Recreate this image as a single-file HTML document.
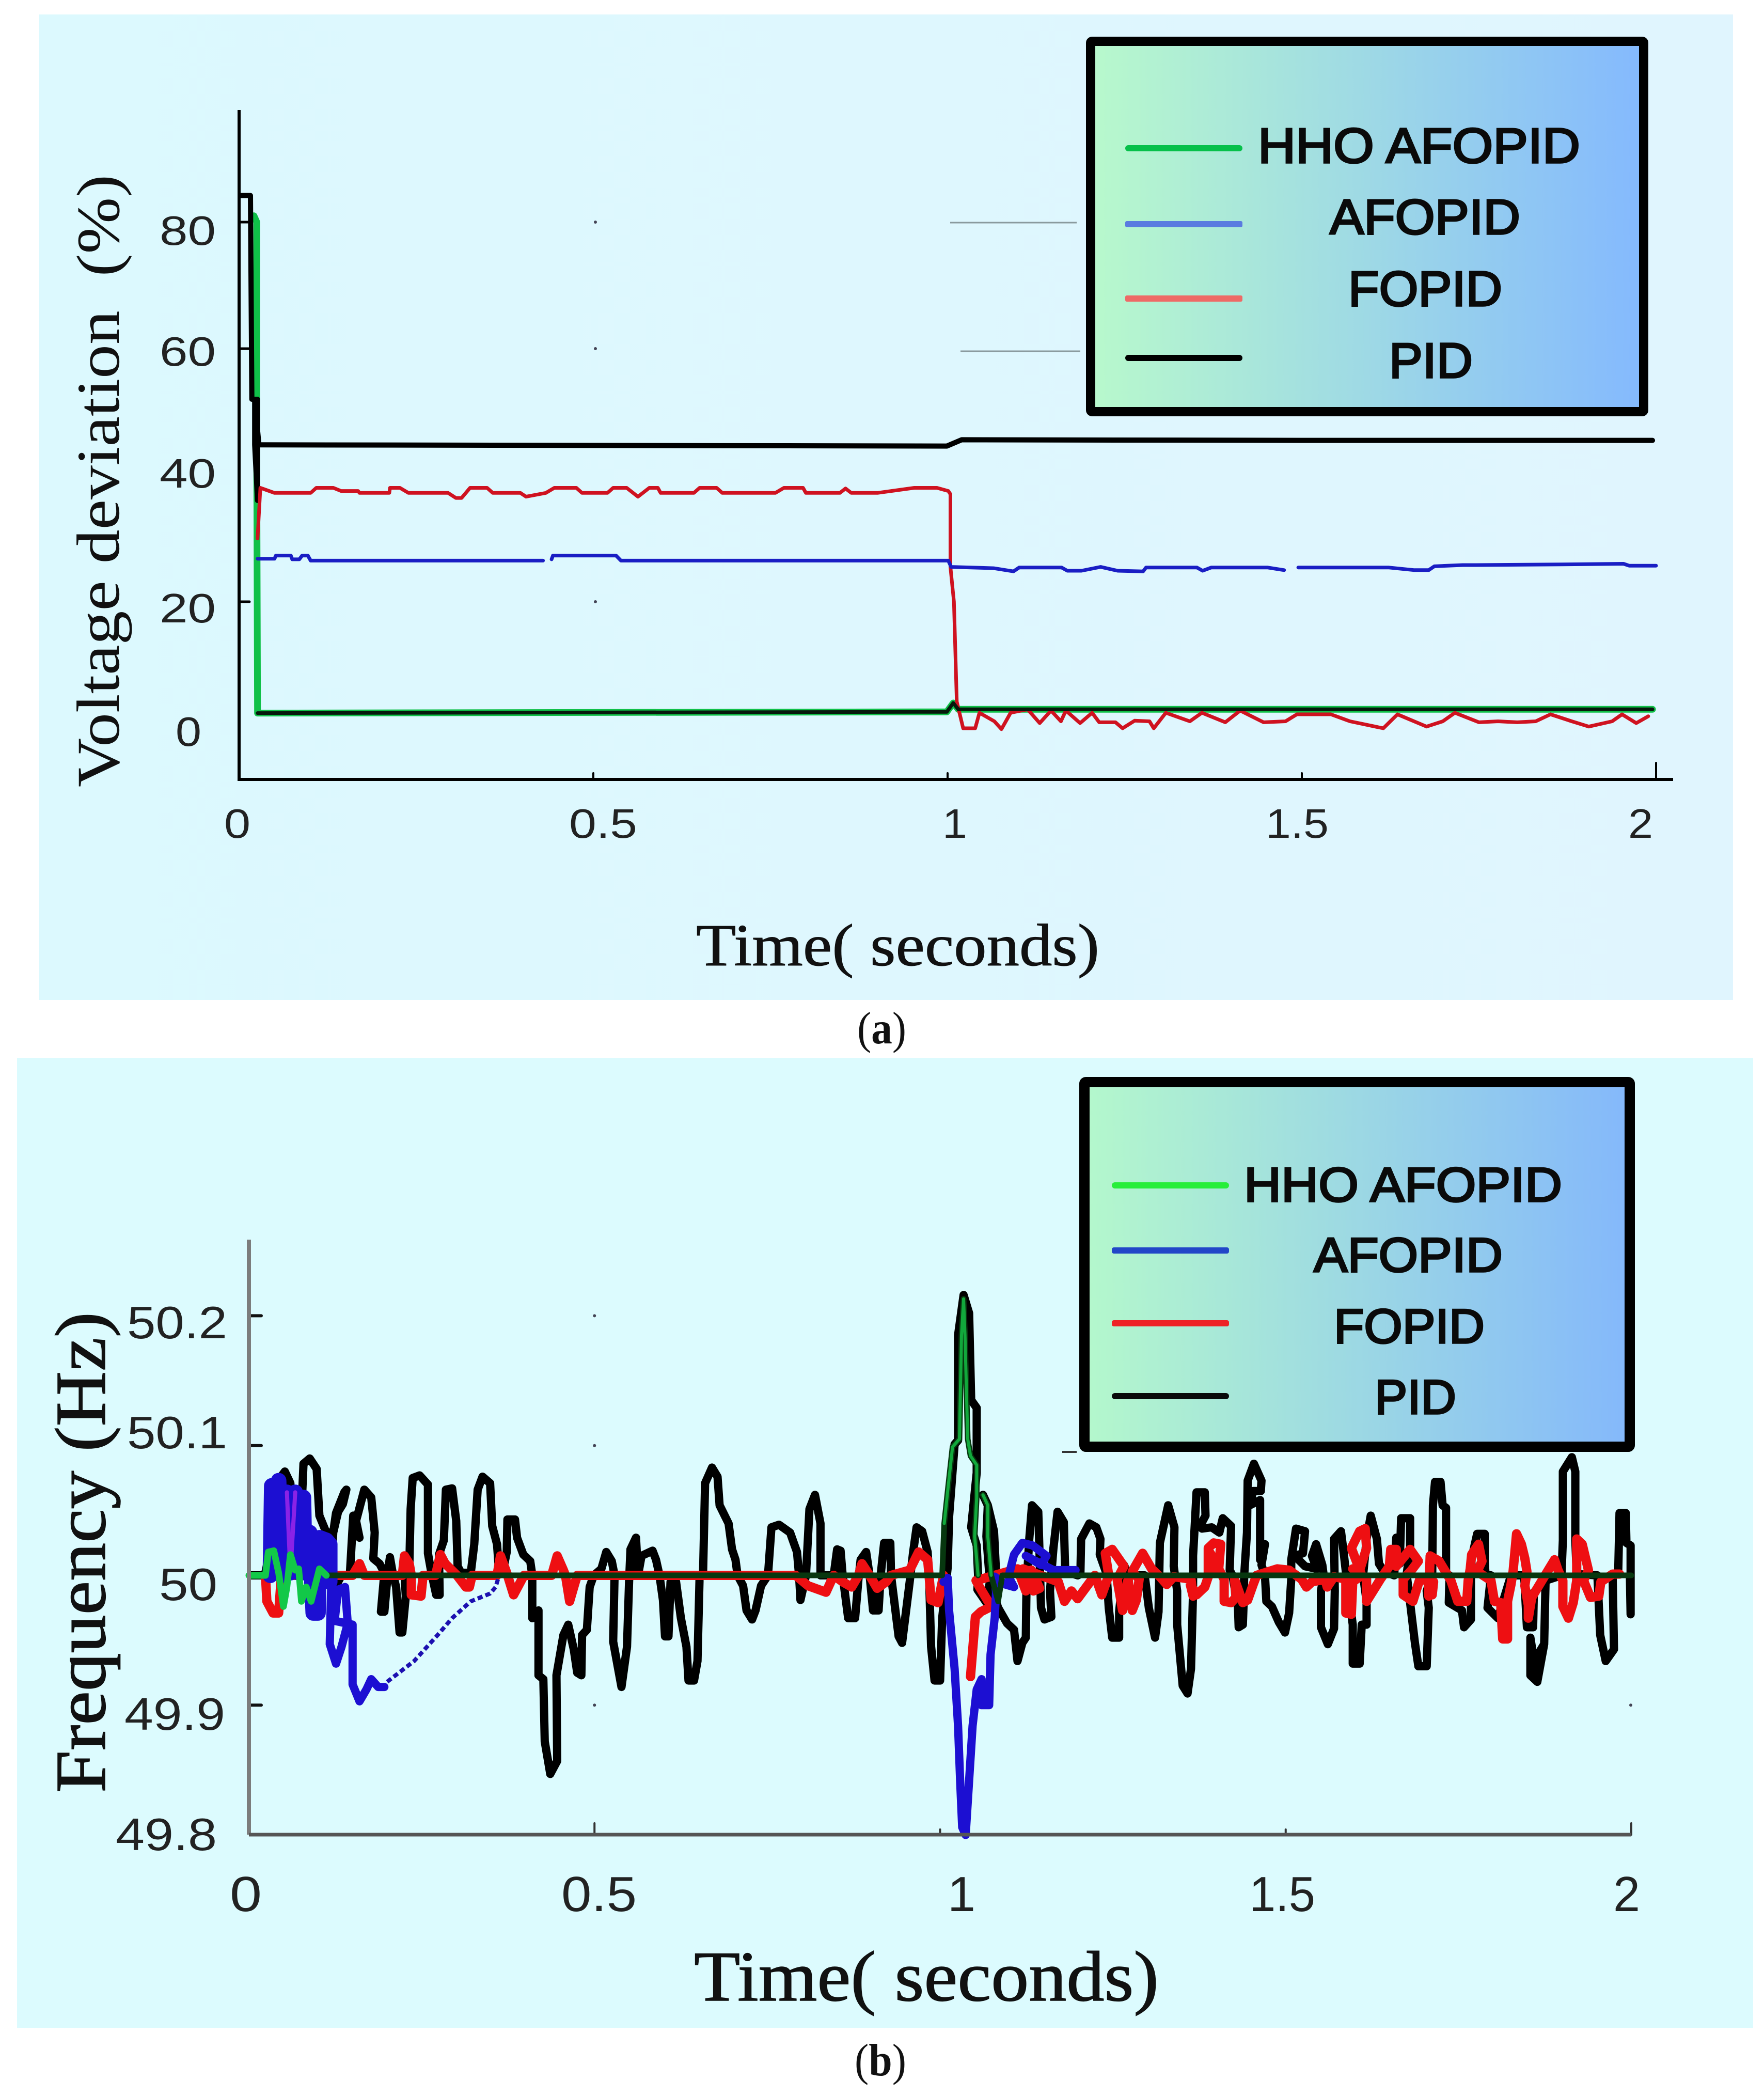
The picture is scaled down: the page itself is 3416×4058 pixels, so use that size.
<!DOCTYPE html>
<html lang="en">
<head>
<meta charset="utf-8">
<title>Voltage deviation and frequency comparison</title>
<style>
html,body{margin:0;padding:0;background:#fff;}
svg{display:block;}
.tick{font-family:"Liberation Sans",sans-serif;fill:#222;}
.title{font-family:"Liberation Serif",serif;fill:#111;}
.leg{font-family:"Liberation Sans",sans-serif;fill:#0a0a0a;stroke:#0a0a0a;stroke-width:3.5;}
</style>
</head>
<body>
<svg id="fig" xmlns="http://www.w3.org/2000/svg" width="3416" height="4058" viewBox="0 0 3416 4058">
<defs>
<linearGradient id="legA" x1="0" x2="1" y1="0" y2="0"><stop offset="0" stop-color="#b8f9cc"/><stop offset="1" stop-color="#84b9fe"/></linearGradient>
<linearGradient id="legB" x1="0" x2="1" y1="0" y2="0"><stop offset="0" stop-color="#b4f8cc"/><stop offset="1" stop-color="#84b8fb"/></linearGradient>
<linearGradient id="panA" x1="0" x2="1" y1="0" y2="0"><stop offset="0" stop-color="#dcf9fe"/><stop offset="1" stop-color="#e0f5fe"/></linearGradient>
</defs>
<rect width="3416" height="4058" fill="#fff"/>

<g id="chart-a">
<rect x="76" y="28" width="3280" height="1908" fill="url(#panA)"/>
<g id="a-marks"></g>
<line x1="463" y1="213" x2="463" y2="1512" stroke="#000" stroke-width="6"/>
<line x1="460" y1="1509" x2="3240" y2="1509" stroke="#000" stroke-width="6"/>
<line x1="1840" y1="431" x2="2085" y2="431" stroke="#8a9a9e" stroke-width="3"/>
<line x1="1860" y1="680" x2="2092" y2="680" stroke="#8a9a9e" stroke-width="3"/>
<g>
<text class="tick" font-size="80" x="309" y="474" textLength="109" lengthAdjust="spacingAndGlyphs">80</text>
<text class="tick" font-size="80" x="309" y="708" textLength="109" lengthAdjust="spacingAndGlyphs">60</text>
<text class="tick" font-size="80" x="309" y="944" textLength="109" lengthAdjust="spacingAndGlyphs">40</text>
<text class="tick" font-size="80" x="309" y="1205" textLength="109" lengthAdjust="spacingAndGlyphs">20</text>
<text class="tick" font-size="80" x="340" y="1444" textLength="50" lengthAdjust="spacingAndGlyphs">0</text>
</g>
<g>
<text class="tick" font-size="80" x="434" y="1622" textLength="51" lengthAdjust="spacingAndGlyphs">0</text>
<text class="tick" font-size="80" x="1102" y="1622" textLength="132" lengthAdjust="spacingAndGlyphs">0.5</text>
<text class="tick" font-size="80" x="1825" y="1622" textLength="48" lengthAdjust="spacingAndGlyphs">1</text>
<text class="tick" font-size="80" x="2451" y="1622" textLength="122" lengthAdjust="spacingAndGlyphs">1.5</text>
<text class="tick" font-size="80" x="3153" y="1622" textLength="48" lengthAdjust="spacingAndGlyphs">2</text>
</g>
<text class="title" font-size="118" transform="translate(230,1524) rotate(-90)" textLength="1186" lengthAdjust="spacingAndGlyphs" xml:space="preserve">Voltage deviation&#160; (%)</text>
<text class="title" font-size="116" stroke="#111" stroke-width="1" x="1348" y="1869" textLength="781" lengthAdjust="spacingAndGlyphs">Time( seconds)</text>
<g>
<rect x="2112" y="80" width="1071" height="717" rx="3" fill="url(#legA)" stroke="#000" stroke-width="18"/>
<rect x="2179" y="281" width="227" height="12" rx="6" fill="#06c04a"/>
<rect x="2179" y="428" width="227" height="12" rx="3" fill="#5a7be0"/>
<rect x="2179" y="572" width="227" height="12" rx="3" fill="#ee6a66"/>
<rect x="2179" y="687" width="227" height="12" rx="6" fill="#000"/>
<text class="leg" font-size="96" x="2436" y="315" textLength="624" lengthAdjust="spacingAndGlyphs">HHO AFOPID</text>
<text class="leg" font-size="96" x="2575" y="453" textLength="369" lengthAdjust="spacingAndGlyphs">AFOPID</text>
<text class="leg" font-size="96" x="2611" y="592" textLength="298" lengthAdjust="spacingAndGlyphs">FOPID</text>
<text class="leg" font-size="96" x="2690" y="731" textLength="162" lengthAdjust="spacingAndGlyphs">PID</text>
</g>
</g>
<text class="title" font-size="88" x="1660" y="2020" textLength="95" lengthAdjust="spacingAndGlyphs">(<tspan font-weight="bold">a</tspan>)</text>

<g id="chart-b">
<rect x="33" y="2048" width="3362" height="1878" fill="#dcfbfe"/>
<g id="b-marks"></g>
<line x1="482" y1="2400" x2="482" y2="3552" stroke="#7c7c7c" stroke-width="8"/>
<line x1="482" y1="3552" x2="3159" y2="3552" stroke="#555" stroke-width="7"/>
<line x1="2057" y1="2811" x2="2085" y2="2811" stroke="#333" stroke-width="4"/>
<g>
<text class="tick" font-size="88" x="246" y="2591" textLength="194" lengthAdjust="spacingAndGlyphs">50.2</text>
<text class="tick" font-size="88" x="246" y="2804" textLength="194" lengthAdjust="spacingAndGlyphs">50.1</text>
<text class="tick" font-size="88" x="308" y="3098" textLength="113" lengthAdjust="spacingAndGlyphs">50</text>
<text class="tick" font-size="88" x="241" y="3349" textLength="195" lengthAdjust="spacingAndGlyphs">49.9</text>
<text class="tick" font-size="88" x="224" y="3582" textLength="196" lengthAdjust="spacingAndGlyphs">49.8</text>
</g>
<g>
<text class="tick" font-size="96" x="445" y="3700" textLength="62" lengthAdjust="spacingAndGlyphs">0</text>
<text class="tick" font-size="96" x="1087" y="3700" textLength="146" lengthAdjust="spacingAndGlyphs">0.5</text>
<text class="tick" font-size="96" x="1835" y="3700" textLength="54" lengthAdjust="spacingAndGlyphs">1</text>
<text class="tick" font-size="96" x="2419" y="3700" textLength="128" lengthAdjust="spacingAndGlyphs">1.5</text>
<text class="tick" font-size="96" x="3124" y="3700" textLength="52" lengthAdjust="spacingAndGlyphs">2</text>
</g>
<text class="title" font-size="139" stroke="#111" stroke-width="1.5" transform="translate(203,3471) rotate(-90)" textLength="931" lengthAdjust="spacingAndGlyphs">Frequency (Hz)</text>
<text class="title" font-size="138" stroke="#111" stroke-width="1.5" x="1344" y="3873" textLength="900" lengthAdjust="spacingAndGlyphs">Time( seconds)</text>
<g>
<rect x="2100" y="2095" width="1056" height="706" rx="3" fill="url(#legB)" stroke="#000" stroke-width="20"/>
<rect x="2153" y="2289" width="227" height="12" rx="6" fill="#27ee3a"/>
<rect x="2153" y="2415" width="227" height="12" rx="4" fill="#2246c8"/>
<rect x="2153" y="2556" width="227" height="12" rx="4" fill="#ee2226"/>
<rect x="2153" y="2697" width="227" height="12" rx="6" fill="#0a0a0a"/>
<text class="leg" font-size="94" x="2409" y="2326" textLength="616" lengthAdjust="spacingAndGlyphs">HHO AFOPID</text>
<text class="leg" font-size="94" x="2544" y="2462" textLength="366" lengthAdjust="spacingAndGlyphs">AFOPID</text>
<text class="leg" font-size="94" x="2583" y="2600" textLength="292" lengthAdjust="spacingAndGlyphs">FOPID</text>
<text class="leg" font-size="94" x="2662" y="2737" textLength="158" lengthAdjust="spacingAndGlyphs">PID</text>
</g>
</g>
<text class="title" font-size="88" x="1655" y="4018" textLength="100" lengthAdjust="spacingAndGlyphs">(<tspan font-weight="bold">b</tspan>)</text>
</svg>

<script>
/* ---------- Chart (a): voltage deviation (%) vs time (s) ---------- */
const aTimeTicks = [0, 0.5, 1, 1.5, 2];
const aVoltTicks = [20, 60, 80];

const aPidT = [0.002, 0.016, 0.018, 0.020, 0.026, 0.026, 0.022, 0.022, 0.028, 0.030, 0.500, 0.999, 1.020, 1.500, 1.995];
const aPidV = [84.2, 84.2, 52, 52, 52, 36, 44.8, 52, 44.8, 44.8, 44.7, 44.6, 45.6, 45.5, 45.5];

const aFopidT = [0.026, 0.030, 0.050, 0.101, 0.109, 0.133, 0.144, 0.168, 0.170, 0.212, 0.213, 0.227, 0.239, 0.295, 0.306, 0.314, 0.326, 0.350, 0.358, 0.397, 0.405, 0.433, 0.445, 0.476, 0.484, 0.520, 0.528, 0.547, 0.563, 0.579, 0.591, 0.595, 0.642, 0.650, 0.674, 0.682, 0.757, 0.769, 0.796, 0.800, 0.848, 0.856, 0.864, 0.901, 0.953, 0.985, 1.001, 1.004, 1.004, 1.009, 1.013, 1.022, 1.039, 1.045, 1.066, 1.076, 1.089, 1.113, 1.130, 1.146, 1.160, 1.167, 1.187, 1.204, 1.214, 1.237, 1.247, 1.264, 1.285, 1.291, 1.308, 1.342, 1.359, 1.392, 1.413, 1.446, 1.477, 1.493, 1.541, 1.568, 1.615, 1.635, 1.676, 1.699, 1.716, 1.750, 1.777, 1.804, 1.830, 1.851, 1.881, 1.905, 1.938, 1.952, 1.972, 1.989];
const aFopidV = [30, 38, 37.2, 37.2, 38.0, 38.0, 37.5, 37.5, 37.2, 37.2, 38.0, 38.0, 37.2, 37.2, 36.4, 36.4, 38.0, 38.0, 37.2, 37.2, 36.6, 37.2, 38.0, 38.0, 37.2, 37.2, 38.0, 38.0, 36.6, 38.0, 38.0, 37.2, 37.2, 38.0, 38.0, 37.2, 37.2, 38.0, 38.0, 37.2, 37.2, 37.9, 37.2, 37.2, 38.0, 38.0, 37.5, 37, 25.5, 20, 4.2, 0, 0, 2.45, 1.1, -0.14, 2.45, 3.0, 0.82, 2.8, 1.1, 2.8, 0.82, 2.45, 0.95, 0.95, 0, 1.2, 1.1, 0, 2.45, 1.1, 2.45, 0.95, 2.8, 0.95, 1.1, 2.2, 2.2, 1.1, 0, 2.2, 0.27, 1.1, 2.45, 0.95, 1.1, 0.95, 1.1, 2.2, 1.1, 0.27, 1.1, 2.2, 0.82, 1.9];

const aAfopidT = [0.026, 0.050, 0.052, 0.073, 0.075, 0.085, 0.089, 0.097, 0.101, 0.429, 0.430, 0.441, 0.443, 0.532, 0.539, 1.001, 1.005, 1.065, 1.093, 1.101, 1.161, 1.169, 1.189, 1.216, 1.240, 1.276, 1.280, 1.352, 1.360, 1.372, 1.452, 1.475, 1.483, 1.495, 1.623, 1.659, 1.679, 1.687, 1.727, 1.746, 1.866, 1.954, 1.962, 2.000];
const aAfopidV = [26.8, 26.8, 27.3, 27.3, 26.7, 26.7, 27.3, 27.3, 26.5, 26.5, null, 26.7, 27.3, 27.3, 26.5, 26.5, 25.5, 25.3, 24.8, 25.4, 25.4, 24.9, 24.9, 25.5, 24.9, 24.8, 25.4, 25.4, 24.9, 25.4, 25.4, 25.0, null, 25.4, 25.4, 25.0, 25.0, 25.6, 25.8, 25.8, 25.9, 26.0, 25.7, 25.7];

const aHhoT = [0.021, 0.025, 0.025, 0.026, 0.500, 0.999, 1.008, 1.015, 1.500, 1.995];
const aHhoV = [81, 80, 40, 2.4, 2.5, 2.6, 4.0, 3.0, 3.0, 3.0];

/* ---------- Chart (b): frequency (Hz) vs time (s) ---------- */
const bTimeTicks = [0, 0.5, 1, 1.5, 2];
const bFreqTicks = [50.2, 50.1, 50, 49.9];

const bPidT = [
0.002,0.023,0.029,0.036,0.045,0.052,0.060,0.066,0.072,0.079,
0.088,0.098,0.102,0.112,0.122,0.126,0.138,0.141,0.136,0.129,
0.122,0.119,0.129,0.134,0.146,0.151,0.160,0.155,0.167,0.177,
0.182,0.180,0.189,0.196,0.191,0.196,0.201,0.204,0.208,0.213,
0.218,0.222,0.227,0.225,0.232,0.234,0.237,0.247,0.259,0.259,
0.264,0.271,0.276,0.275,0.282,0.285,0.294,0.300,0.302,0.307,
0.321,0.326,0.331,0.338,0.349,0.352,0.359,0.362,0.367,0.373,
0.374,0.385,0.388,0.397,0.407,0.410,0.410,0.419,0.419,0.426,
0.428,0.436,0.446,0.445,0.455,0.462,0.470,0.475,0.481,0.482,
0.489,0.493,0.499,0.510,0.517,0.525,0.529,0.527,0.539,0.547,
0.550,0.552,0.560,0.563,0.568,0.584,0.589,0.594,0.599,0.602,
0.607,0.610,0.615,0.618,0.625,0.633,0.636,0.644,0.649,0.652,
0.657,0.660,0.670,0.678,0.681,0.694,0.699,0.704,0.707,0.715,
0.720,0.728,0.733,0.741,0.751,0.756,0.767,0.783,0.793,0.796,
0.798,0.806,0.811,0.819,0.827,0.827,0.846,0.851,0.856,0.859,
0.867,0.877,0.882,0.885,0.893,0.898,0.903,0.911,0.914,0.919,
0.928,0.929,0.940,0.945,0.956,0.961,0.966,0.974,0.982,0.984,
0.987,0.992,1.000,1.003,1.011,1.013,1.021,1.026,1.026,1.034,
1.042,1.045,1.053,1.053,1.045,1.053,1.055,1.054,1.067,1.072,
1.067,1.069,1.062,1.069,1.078,1.081,1.075,1.084,1.097,1.107,
1.112,1.119,1.124,1.125,1.129,1.133,1.142,1.144,1.146,1.151,
1.161,1.159,1.164,1.170,1.179,1.181,1.199,1.203,1.204,1.216,
1.226,1.232,1.231,1.241,1.244,1.249,1.259,1.259,1.266,1.273,
1.296,1.302,1.311,1.316,1.318,1.330,1.339,1.338,1.343,1.343,
1.351,1.358,1.363,1.366,1.366,1.371,1.383,1.384,1.379,1.379,
1.393,1.404,1.409,1.421,1.419,1.423,1.431,1.432,1.438,1.439,
1.440,1.444,1.445,1.454,1.465,1.464,1.453,1.448,1.463,1.463,
1.470,1.465,1.470,1.472,1.480,1.490,1.499,1.505,1.508,1.508,
1.515,1.528,1.525,1.513,1.528,1.545,1.538,1.544,1.553,1.555,
1.551,1.551,1.561,1.570,1.571,1.570,1.580,1.584,1.587,1.597,
1.597,1.607,1.610,1.617,1.617,1.612,1.617,1.623,1.632,1.635,
1.642,1.657,1.660,1.665,1.667,1.680,1.680,1.675,1.687,1.692,
1.704,1.707,1.704,1.712,1.713,1.716,1.724,1.727,1.732,1.732,
1.737,1.736,1.755,1.758,1.768,1.768,1.769,1.777,1.788,1.788,
1.789,1.797,1.792,1.807,1.826,1.845,1.849,1.858,1.859,1.876,
1.874,1.866,1.864,1.854,1.854,1.864,1.874,1.876,1.899,1.901,
1.901,1.914,1.919,1.919,1.921,1.951,1.955,1.963,1.975,1.973,
1.981,1.983,1.992,1.993,1.999,1.999,1.998];
const bPidHz = [
50,50,50.015,50.016,50.075,50.080,50.071,50.002,50,50.086,
50.090,50.082,50.046,50.033,50.033,50.048,50.064,50.066,50.055,50.049,
50.033,50.002,49.995,50,50,50.046,50.029,50.042,50.066,50.060,
50.033,50.013,50.009,50.002,49.972,49.972,50.002,50.014,50.002,49.991,
49.956,49.956,49.984,50.002,50.004,50.051,50.075,50.077,50.070,50.017,
50.002,49.985,49.985,50.016,50.027,50.066,50.067,50.042,50.007,50.002,
50.002,50.024,50.066,50.076,50.071,50.038,50.024,50.002,50.002,50.018,
50.043,50.043,50.029,50.016,50.011,50,49.967,49.973,49.923,49.920,
49.872,49.847,49.857,49.923,49.954,49.962,49.943,49.925,49.923,49.954,
49.958,49.991,50,50.005,50.018,50.011,50,49.949,49.914,49.945,
49.995,50.020,50.029,50,50.015,50.019,50.012,50,49.981,49.953,
49.953,49.995,50,49.995,49.967,49.945,49.919,49.919,49.934,49.998,
50,50.071,50.083,50.076,50.054,50.040,50.020,50.012,50,49.992,
49.973,49.966,49.973,49.992,50,50.037,50.039,50.033,50.018,50,
49.981,50,50.051,50.062,50.040,50,50,50.020,50.019,50,
49.967,49.967,49.998,50.012,50.018,50,49.973,49.973,50,50.025,
50.025,50,49.953,49.948,49.995,50.018,50.037,50.034,50.018,50,
49.945,49.919,49.919,49.967,50.006,50.045,50.101,50.104,50.185,50.216,
50.202,50.135,50.129,50.079,50.037,50.023,50,49.989,49.979,49.995,
50.030,50.054,50.062,50.054,50.034,50.002,49.990,49.975,49.963,49.958,
49.934,49.948,49.952,49.991,50.028,50.054,50.049,50.015,49.975,49.966,
49.968,49.988,50.021,50.049,50.041,50.003,50,50.001,50.028,50.040,
50.037,50.028,50.016,50.001,49.975,49.952,49.952,49.972,50.008,50,
50,49.975,49.952,49.972,50.025,50.054,50.037,50.007,49.988,49.962,
49.915,49.909,49.928,49.988,50.015,50.064,50.064,50.046,50.041,50.036,
50.037,50.033,50.044,50.038,50.004,50,49.975,49.960,49.962,49.977,
50,50.033,50.073,50.086,50.073,50.065,50.065,50.054,50.058,50.012,
50.024,50.008,50,49.980,49.976,49.964,49.956,49.971,49.997,50.012,
50.036,50.034,50.017,50.015,50.007,50.005,50.015,50.024,50.008,50,
49.988,49.960,49.947,49.959,49.988,50.028,50.034,50.017,50.003,49.962,
49.932,49.932,49.962,49.962,49.980,50,50.028,50.046,50.028,50.009,
50.003,50,50.029,50.009,50.044,50.044,50.020,50.001,49.948,49.930,
49.930,49.975,49.988,50.001,50.054,50.072,50.072,50.054,50.052,50.001,
50,49.979,49.973,49.960,49.966,49.997,50.013,50.032,50.032,50.011,
50.001,50,49.975,49.967,50,50,49.960,49.960,49.987,49.996,
49.947,49.940,49.918,49.923,49.952,49.918,49.947,49.996,50,50.027,
50.080,50.091,50.080,50.027,50.001,50,49.954,49.934,49.943,50,
50.001,50.048,50.048,50.025,50.023,49.970,50];

const bFopidT = [
0.024,0.026,0.035,0.043,0.047,0.150,0.160,0.167,0.222,0.225,
0.232,0.235,0.235,0.249,0.252,0.270,0.277,0.284,0.301,0.314,
0.319,0.323,0.359,0.364,0.373,0.383,0.393,0.398,0.438,0.446,
0.455,0.458,0.464,0.470,0.475,0.791,0.809,0.835,0.846,0.859,
0.872,0.882,0.887,0.898,0.909,0.922,0.929,0.956,0.969,0.982,
0.984,0.987,0.997,1.005,1.006,1.044,1.051,1.059,1.074,1.057,1.052,
1.112,1.124,1.132,1.144,1.135,1.120,1.171,1.180,1.190,1.199,
1.224,1.234,1.244,1.239,1.249,1.266,
1.256,1.264,1.272,1.278,1.284,1.288,
1.278,1.293,1.306,1.318,1.328,1.338,
1.363,1.366,1.362,1.371,1.383,1.388,
1.388,1.396,1.406,1.403,1.393,1.391,
1.411,1.411,1.421,1.428,1.426,1.438,1.445,1.453,1.458,
1.488,1.505,1.523,1.530,1.538,
1.557,1.560,1.570,1.587,1.587,1.595,1.597,1.610,
1.595,1.607,1.615,1.617,1.607,1.597,
1.617,1.617,1.630,1.637,
1.650,1.652,1.660,1.660,
1.680,1.692,1.682,
1.670,1.670,1.684,1.694,1.714,1.712,
1.707,1.707,1.709,1.722,
1.739,1.749,1.762,1.764,
1.767,1.769,1.779,1.784,1.777,
1.797,1.802,1.811,1.814,1.821,1.821,1.826,
1.829,1.834,1.841,1.846,1.849,
1.846,1.851,1.851,1.856,
1.881,1.889,1.894,
1.901,1.901,1.909,1.916,1.921,
1.921,1.921,1.929,1.938,
1.931,1.941,1.953,1.956,
1.973,1.983];
const bFopidHz = [
50,49.980,49.971,49.971,50,50,50.009,50,50,50.015,
50.009,50,49.985,49.984,50,50,50.016,50.009,50,49.991,
49.991,50,50,50.015,50.002,49.985,49.995,50,50,50.015,
50.004,50,49.980,49.991,50,50,49.992,49.987,50,49.995,
49.991,50,50.009,50,49.990,49.995,50,50.004,50.018,50.012,
50,49.981,49.979,50,null,49.922,49.968,49.972,49.976,49.991,49.996,
50.005,49.988,50.004,49.990,49.988,50.005,49.995,49.980,49.988,49.982,
50,49.985,50,50.017,50.020,50.007,
49.997,49.973,49.997,49.973,49.981,49.997,
50.003,50.017,50.005,49.999,49.993,49.999,
49.997,49.984,49.993,49.985,49.991,49.999,
50.021,50.025,50.024,50.004,50.003,50.017,
49.997,49.980,49.979,49.983,49.997,49.979,49.981,49.993,50,
50.005,50.004,49.997,49.991,49.995,
49.997,49.991,49.999,49.997,49.971,49.970,49.995,50,
50.021,50.034,50.036,50.021,50.004,50.005,
49.997,49.980,49.991,49.997,
50.007,50.020,50.020,50.007,
50.020,50.011,50.004,
49.997,49.985,49.980,49.997,49.995,49.985,
49.992,49.984,50.015,50.011,
49.996,49.980,49.980,49.996,
50.005,50.016,50.024,50.011,50.003,
49.996,49.980,49.979,49.951,49.951,49.980,49.993,
50.003,50.032,50.024,50.013,50.003,
49.992,49.977,49.967,49.983,
50.005,50.012,50.004,
49.996,49.976,49.967,49.979,49.996,
50.003,50.028,50.024,50.004,
49.996,49.983,49.984,49.995,
50.001,50.001];

const bAfopidT = [
0.031,0.033,0.038,0.043,0.048,0.055,0.060,0.067,0.072,0.079,
0.081,0.088,0.093,0.100,0.102,0.112,0.117,0.117,0.119,0.117,
0.126,0.134,0.143,0.139,0.129,0.124,0.150,0.150,0.160,0.170,
0.177,0.187,0.196,0.197,1.005,1.011,1.013,1.021,1.026,1.029,
1.032,1.037,1.042,1.047,1.053,1.060,1.060,1.071,1.073,1.079,
1.081,1.079,1.094,1.107,1.099,1.107,1.119,1.134,1.154,1.146,
1.124,1.164,1.184,1.196];
const bAfopidHz = [
50,50.069,50.009,50.073,50,50.064,50.002,50.064,50.002,50.060,
50.002,50.033,49.971,49.971,50.029,50.027,50.024,49.995,49.991,49.947,
49.932,49.945,49.963,49.991,49.989,49.965,49.962,49.916,49.903,49.912,
49.920,49.914,49.914,null,49.995,49.998,49.973,49.928,49.884,49.842,
49.806,49.800,49.842,49.884,49.912,49.920,49.900,49.900,49.939,49.967,
49.987,49.999,49.993,49.991,49.999,50.016,50.025,50.023,50.015,50.008,
50.015,50.004,50.004,50.004];

const bAfopidRecoveryT = [0.200, 0.239, 0.273, 0.294, 0.321, 0.349, 0.357, 0.362];
const bAfopidRecoveryHz = [49.918, 49.934, 49.954, 49.967, 49.980, 49.986, 49.991, 50];

const bHhoT = [
0,0.024,0.028,0.036,0.043,0.050,0.055,0.060,0.067,0.072,
0.076,0.083,0.090,0.102,0.112,1.003,1.006,1.011,1.018,1.028,
1.031,1.034,1.036,1.040,1.044,1.053,1.053,1.050,1.055,1.056,
1.062,1.069,1.069,1.074,1.084,1.090,1.100,2.000];
const bHhoHz = [
50,50,50.018,50.019,50.002,49.976,49.991,50.016,50.004,50.005,
49.980,49.991,49.980,50.005,50,50,50.040,50.065,50.099,50.105,
50.185,50.213,50.185,50.105,50.092,50.085,50.060,50.030,50,null,
50.062,50.054,50.030,50,49.980,50,50,50];

/* ---------- axis functions ---------- */
function ax(t){ return 463 + 1372 * t; }
function ay(v){ return 1410 - 12.25 * v; }
function bx(t){ return 482 + 1338.5 * t; }
function by(f){ return 3050 - 2513 * (f - 50); }

const SVGNS = 'http://www.w3.org/2000/svg';

function buildPath(ts, vs, xf, yf, keep){
  let d = '';
  let pen = false;
  const n = Math.min(ts.length, vs.length);
  for (let i = 0; i < n; i++) {
    if (vs[i] === null || (keep && !keep(ts[i]))) { pen = false; continue; }
    d += (pen ? 'L' : 'M') + xf(ts[i]).toFixed(1) + ' ' + yf(vs[i]).toFixed(1);
    pen = true;
  }
  return d;
}

function drawSeries(parent, seriesName, d, color, width, dash){
  const path = document.createElementNS(SVGNS, 'path');
  path.setAttribute('d', d);
  path.setAttribute('fill', 'none');
  path.setAttribute('stroke', color);
  path.setAttribute('stroke-width', width);
  path.setAttribute('stroke-linejoin', 'round');
  path.setAttribute('stroke-linecap', dash ? 'butt' : 'round');
  if (dash) path.setAttribute('stroke-dasharray', dash);
  
  
  parent.appendChild(path);
}

function drawTick(parent, x1, y1, x2, y2, color, width){
  const tick = document.createElementNS(SVGNS, 'line');
  tick.setAttribute('x1', x1);
  tick.setAttribute('y1', y1);
  tick.setAttribute('x2', x2);
  tick.setAttribute('y2', y2);
  tick.setAttribute('stroke', color);
  tick.setAttribute('stroke-width', width);
  tick.setAttribute('stroke-linecap', 'round');
  
  
  parent.appendChild(tick);
}

function drawDot(parent, x, y){
  const dot = document.createElementNS(SVGNS, 'circle');
  dot.setAttribute('cx', x);
  dot.setAttribute('cy', y);
  dot.setAttribute('r', 3);
  dot.setAttribute('fill', '#445');
  
  
  parent.appendChild(dot);
}

/* ---------- draw chart (a) ---------- */
const aG = document.getElementById('a-marks');
aVoltTicks.forEach(function(v){
  drawTick(aG, 463, ay(v), 483, ay(v), '#000', 5);
  drawDot(aG, ax(0.5) + 4, ay(v));
});
aTimeTicks.forEach(function(t, i){
  const h = i === aTimeTicks.length - 1 ? 32 : 12;
  if (i > 0) drawTick(aG, ax(t), 1509, ax(t), 1509 - h, '#000', 4);
});
drawSeries(aG, 'series-hho-afopid', buildPath(aHhoT, aHhoV, ax, ay), '#10c048', 13);
drawSeries(aG, 'series-pid', buildPath(aPidT, aPidV, ax, ay), '#000', 10);
drawSeries(aG, 'series-fopid', buildPath(aFopidT, aFopidV, ax, ay), '#cf1220', 7);
drawSeries(aG, 'series-afopid', buildPath(aAfopidT, aAfopidV, ax, ay), '#1a1ec4', 7);
drawSeries(aG, 'series-hho-afopid-core', buildPath(aHhoT, aHhoV, ax, ay, function(t){ return t > 0.025; }), '#06180c', 7);

/* ---------- draw chart (b) ---------- */
const bG = document.getElementById('b-marks');
bFreqTicks.forEach(function(f){
  drawTick(bG, 486, by(f), 506, by(f), '#111', 6);
  drawDot(bG, bx(0.5), by(f));
});
bTimeTicks.forEach(function(t){
  if (t > 0) drawTick(bG, bx(t), 3552, bx(t), t === 2 || t === 0.5 ? 3530 : 3542, '#333', 4);
});
drawDot(bG, 3158, by(49.9));
drawSeries(bG, 'series-pid', buildPath(bPidT, bPidHz, bx, by), '#000', 16);
drawSeries(bG, 'series-fopid', buildPath(bFopidT, bFopidHz, bx, by), '#ee0f12', 18);
drawSeries(bG, 'series-afopid', buildPath(bAfopidT, bAfopidHz, bx, by), '#1c0fd2', 16);
drawSeries(bG, 'series-afopid-block', buildPath(bAfopidT, bAfopidHz, bx, by, function(t){ return t < 0.118; }), '#1c0fd2', 30);
drawSeries(bG, 'series-afopid-purple', buildPath(bAfopidT, bAfopidHz, bx, by, function(t){ return t > 0.05 && t < 0.07; }), '#8a22e6', 8);
drawSeries(bG, 'series-afopid-recovery', buildPath(bAfopidRecoveryT, bAfopidRecoveryHz, bx, by), '#1c0fb0', 8, '10 6');
drawSeries(bG, 'series-hho-afopid', buildPath(bHhoT, bHhoHz, bx, by), '#07370f', 11);
drawSeries(bG, 'series-hho-afopid-start', buildPath(bHhoT, bHhoHz, bx, by, function(t){ return t < 0.115; }), '#12c848', 13);
drawSeries(bG, 'series-hho-afopid-spike', buildPath(bHhoT, bHhoHz, bx, by, function(t){ return t > 1.004 && t < 1.075; }), '#12a83c', 6);
</script>
</body>
</html>
